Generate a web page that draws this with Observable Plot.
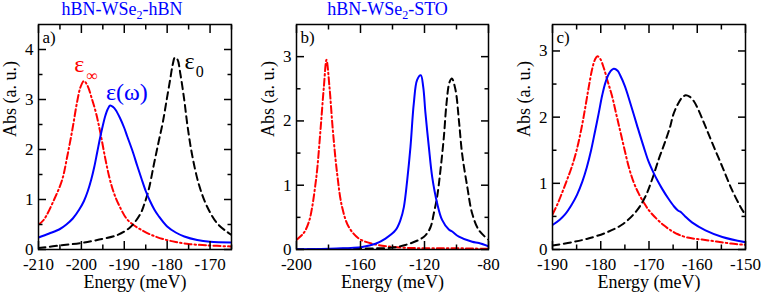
<!DOCTYPE html>
<html><head><meta charset="utf-8">
<script src="https://cdn.jsdelivr.net/npm/d3@7"></script>
<script src="https://cdn.jsdelivr.net/npm/@observablehq/plot@0.6"></script>
<style>
body{margin:0;background:#fff;}
#wrap{position:relative;width:763px;height:293px;font-family:"Liberation Serif","Times New Roman",serif;overflow:hidden;}
.panel{position:absolute;top:0;}
.title{position:absolute;top:0;transform:translateX(-50%);color:#0000ff;font-size:18px;line-height:18px;white-space:nowrap;}
.title sub{font-size:12px;vertical-align:-4px;line-height:0;}
</style></head><body>
<div id="wrap"></div>
<script>
// ---------- Data: energy (meV), absorption (a. u.) ----------
// Panel a) hBN-WSe2-hBN
const aEps = [[-210,0.24],[-207.5,0.32],[-205,0.41],[-203.5,0.5],[-202,0.62],[-200.5,0.8],[-199.4,0.97],[-198.5,1.17],[-197.7,1.4],[-197,1.65],[-196.3,1.95],[-195.6,2.25],[-195,2.48],[-194.4,2.68],[-193.9,2.8],[-193.3,2.88],[-192.6,2.85],[-192,2.79],[-191,2.63],[-190,2.43],[-189.3,2.26],[-188,1.95],[-187,1.68],[-186,1.42],[-185,1.17],[-184,0.97],[-183,0.8],[-182,0.67],[-180,0.46],[-178,0.34],[-176,0.26],[-173,0.19],[-170,0.155],[-165,0.14]];
const aEpsInf = [[-210,0.5],[-208.8,0.59],[-206.4,0.99],[-204.5,1.39],[-203.3,1.86],[-202.1,2.4],[-201,2.95],[-200.2,3.25],[-199.4,3.37],[-198.6,3.28],[-197.5,3.0],[-196.5,2.7],[-195.5,2.3],[-194.5,1.85],[-193.5,1.45],[-192.5,1.15],[-191.3,0.9],[-189.5,0.62],[-188,0.5],[-186.2,0.4],[-183.9,0.3],[-181,0.21],[-178,0.15],[-175,0.11],[-171,0.085],[-165,0.06]];
const aEps0 = [[-210,0.03],[-204.1,0.09],[-200,0.13],[-196.3,0.19],[-191.6,0.29],[-188.55,0.45],[-186.2,0.72],[-185.4,0.89],[-184.3,1.2],[-183.1,1.7],[-182,2.15],[-181,2.55],[-180.2,2.95],[-179.3,3.4],[-178.7,3.7],[-178.2,3.84],[-177.6,3.8],[-176.9,3.5],[-176,2.98],[-175.3,2.5],[-174.2,1.9],[-172.6,1.3],[-170.7,0.86],[-168.3,0.52],[-166,0.35],[-165,0.29]];
// Panel b) hBN-WSe2-STO
const bEps = [[-200,0.005],[-175,0.015],[-159,0.04],[-150.6,0.09],[-144.4,0.17],[-138.1,0.3],[-135,0.46],[-132.9,0.66],[-130.8,1.08],[-128.75,1.6],[-126.7,2.27],[-124.6,2.64],[-122.3,2.71],[-120.8,2.53],[-119.4,2.12],[-117.3,1.6],[-115.2,1.13],[-112.1,0.72],[-109,0.46],[-104.8,0.31],[-102.7,0.28],[-98.5,0.2],[-90.2,0.12],[-86,0.1],[-80,0.05]];
const bEpsInf = [[-200,0.15],[-196,0.24],[-194.4,0.3],[-192,0.45],[-190.2,0.66],[-188.5,0.95],[-187.1,1.24],[-185,1.86],[-182.9,2.53],[-181.25,2.95],[-179.4,2.53],[-177.3,1.86],[-174.6,1.18],[-171.5,0.66],[-167.3,0.35],[-161,0.17],[-152.7,0.09],[-140,0.04],[-123.5,0.02],[-102.7,0.02],[-80,0.01]];
const bEps0 = [[-200,0.003],[-160,0.015],[-140,0.03],[-132,0.07],[-123.5,0.15],[-119.4,0.22],[-116.2,0.35],[-114.2,0.56],[-112.1,0.82],[-110,1.24],[-107.9,1.75],[-106.25,2.27],[-104.4,2.6],[-102.9,2.66],[-100.6,2.48],[-98.5,2.01],[-96.5,1.49],[-93.3,0.98],[-90.2,0.56],[-86,0.3],[-80,0.15]];
// Panel c)
const cEps = [[-190,0.37],[-188.5,0.45],[-187.4,0.53],[-186,0.68],[-184.9,0.83],[-183.8,1.03],[-182.9,1.24],[-182,1.5],[-181.2,1.78],[-180.45,2.05],[-179.7,2.33],[-179,2.53],[-178.2,2.67],[-177.3,2.73],[-176.5,2.7],[-175.95,2.63],[-175,2.47],[-174.2,2.29],[-172.5,1.88],[-171.1,1.55],[-170.1,1.33],[-169,1.15],[-168.3,1.05],[-167.3,0.92],[-166,0.77],[-164.8,0.65],[-164,0.59],[-163.3,0.56],[-162.5,0.5],[-161.1,0.41],[-158.3,0.29],[-154.8,0.19],[-150,0.11]];
const cEpsInf = [[-190,0.53],[-189,0.68],[-188,0.86],[-187,1.05],[-186,1.25],[-185,1.5],[-184,1.83],[-183.2,2.15],[-182.5,2.45],[-181.8,2.72],[-181.2,2.87],[-180.7,2.92],[-180.1,2.88],[-179.4,2.75],[-178.6,2.55],[-177.7,2.33],[-176.8,2.05],[-176,1.8],[-175.2,1.55],[-174.2,1.25],[-173.2,1.02],[-172.1,0.84],[-171,0.7],[-170,0.59],[-168.5,0.47],[-167,0.37],[-165.5,0.29],[-164,0.23],[-162,0.18],[-159,0.15],[-156,0.12],[-153,0.09],[-150,0.07]];
const cEps0 = [[-190,0.06],[-186,0.11],[-182.9,0.16],[-178.7,0.26],[-175.3,0.39],[-172.5,0.59],[-170.75,0.8],[-169.4,1.05],[-168,1.36],[-166.8,1.6],[-165.6,1.86],[-165,2.03],[-164,2.2],[-163.2,2.29],[-162.4,2.33],[-161.6,2.31],[-160.7,2.24],[-159.7,2.1],[-158.65,1.92],[-157.8,1.77],[-156.9,1.61],[-154.8,1.25],[-152.8,0.9],[-151,0.64],[-150,0.52]];

// Tick values
const aXMajor = [-210,-200,-190,-180,-170];
const aXMinor = [-205,-195,-185,-175,-165];
const aYMajor = [0,1,2,3,4];
const aYMinor = [0.5,1.5,2.5,3.5];
const bXMajor = [-200,-160,-120,-80];
const bXMinor = [-180,-140,-100];
const bYMajor = [0,1,2,3];
const bYMinor = [0.5,1.5,2.5];
const cXMajor = [-190,-180,-170,-160,-150];
const cXMinor = [-185,-175,-165,-155];
const cYMajor = [0,1,2,3];
const cYMinor = [0.5,1.5,2.5];

// Titles, tags, annotations
const titles = [{pre:"hBN-WSe", sub:"2", post:"-hBN"}, {pre:"hBN-WSe", sub:"2", post:"-STO"}];
const tags = ["a)", "b)", "c)"];
const aNotesBig = [{t:"ε", x:-200.5, y:3.55, c:"#ff0000"}, {t:"ε(ω)", x:-189.4, y:3.0, c:"#0000ff"}, {t:"ε", x:-174.8, y:3.62, c:"#000000"}];
const aNotesSub = [{t:"∞", x:-197.5, y:3.38, c:"#ff0000"}, {t:"0", x:-172.4, y:3.46, c:"#000000"}];

// ---------- Drawing ----------
const FONT = '"Liberation Serif","Times New Roman",serif';
const BLUE = "#0000ff", RED = "#ff0000", BLACK = "#000000";
const fmt = d => String(d);
const wrap = document.getElementById("wrap");

function panel(o) {
  const series = [
    {data: o.inf, stroke: RED, dash: "7,3,1.5,3"},
    {data: o.zero, stroke: BLACK, dash: "7,4.5"},
    {data: o.eps, stroke: BLUE, dash: null}
  ];
  const tick = (data, anchor, size) => (anchor === "bottom" || anchor === "top")
    ? Plot.axisX(data, {anchor, tickSize: size, tickFormat: () => "", label: null, strokeWidth: 1.5})
    : Plot.axisY(data, {anchor, tickSize: size, tickFormat: () => "", label: null, strokeWidth: 1.5});
  const marks = [
    ...series.map(s => Plot.line(s.data, {x: d => d[0], y: d => d[1], stroke: s.stroke, strokeWidth: 2, strokeDasharray: s.dash, curve: "catmull-rom", clip: true})),
    tick(o.xMajor, "bottom", -8), tick(o.xMinor, "bottom", -4.5),
    tick(o.xMajor, "top", -8), tick(o.xMinor, "top", -4.5),
    tick(o.yMajor, "left", -8), tick(o.yMinor, "left", -4.5),
    tick(o.yMajor, "right", -8), tick(o.yMinor, "right", -4.5),
    Plot.axisX(o.xMajor, {anchor: "bottom", tickSize: 0, tickPadding: 8, tickFormat: fmt, label: null, fontSize: 17}),
    Plot.axisY(o.yMajor, {anchor: "left", tickSize: 0, tickPadding: 5, tickFormat: fmt, label: null, fontSize: 17}),
    Plot.frame({stroke: BLACK, strokeWidth: 1.5}),
    Plot.text([o.tag], {frameAnchor: "top-left", dx: 4, dy: 6, lineAnchor: "top", textAnchor: "start", fontSize: 17}),
    Plot.text(["Energy (meV)"], {frameAnchor: "bottom", dy: 33, lineAnchor: "middle", fontSize: 18}),
    Plot.text(["Abs (a. u.)"], {frameAnchor: "left", dx: -28, rotate: -90, lineAnchor: "middle", fontSize: 18})
  ];
  if (o.notesBig) marks.push(Plot.text(o.notesBig, {x: "x", y: "y", text: "t", fill: "c", fontSize: 24, lineAnchor: "bottom"}));
  if (o.notesSub) marks.push(Plot.text(o.notesSub, {x: "x", y: "y", text: "t", fill: "c", fontSize: 16, lineAnchor: "bottom"}));
  const svg = Plot.plot({
    width: o.width, height: 293,
    marginLeft: o.mL, marginRight: o.mR, marginTop: 24, marginBottom: 44,
    x: {domain: o.xDomain},
    y: {domain: o.yDomain},
    style: {fontFamily: FONT, fontSize: "17px", overflow: "visible"},
    marks
  });
  const div = document.createElement("div");
  div.className = "panel";
  div.style.left = o.left + "px";
  div.appendChild(svg);
  wrap.appendChild(div);
}

panel({left: 0, width: 250, mL: 38, mR: 19, xDomain: [-210, -165], yDomain: [0, 4.5],
  xMajor: aXMajor, xMinor: aXMinor, yMajor: aYMajor, yMinor: aYMinor,
  eps: aEps, inf: aEpsInf, zero: aEps0, tag: tags[0], notesBig: aNotesBig, notesSub: aNotesSub});
panel({left: 255, width: 250, mL: 41, mR: 17, xDomain: [-200, -80], yDomain: [0, 3.5],
  xMajor: bXMajor, xMinor: bXMinor, yMajor: bYMajor, yMinor: bYMinor,
  eps: bEps, inf: bEpsInf, zero: bEps0, tag: tags[1]});
panel({left: 510, width: 253, mL: 42, mR: 18, xDomain: [-190, -150], yDomain: [0, 3.4],
  xMajor: cXMajor, xMinor: cXMinor, yMajor: cYMajor, yMinor: cYMinor,
  eps: cEps, inf: cEpsInf, zero: cEps0, tag: tags[2]});

// Titles (HTML text above the plots)
[[titles[0], 122], [titles[1], 387.5]].forEach(([t, cx]) => {
  const d = document.createElement("div");
  d.className = "title";
  d.style.left = cx + "px";
  d.innerHTML = t.pre + "<sub>" + t.sub + "</sub>" + t.post;
  wrap.appendChild(d);
});
</script>
</body></html>
